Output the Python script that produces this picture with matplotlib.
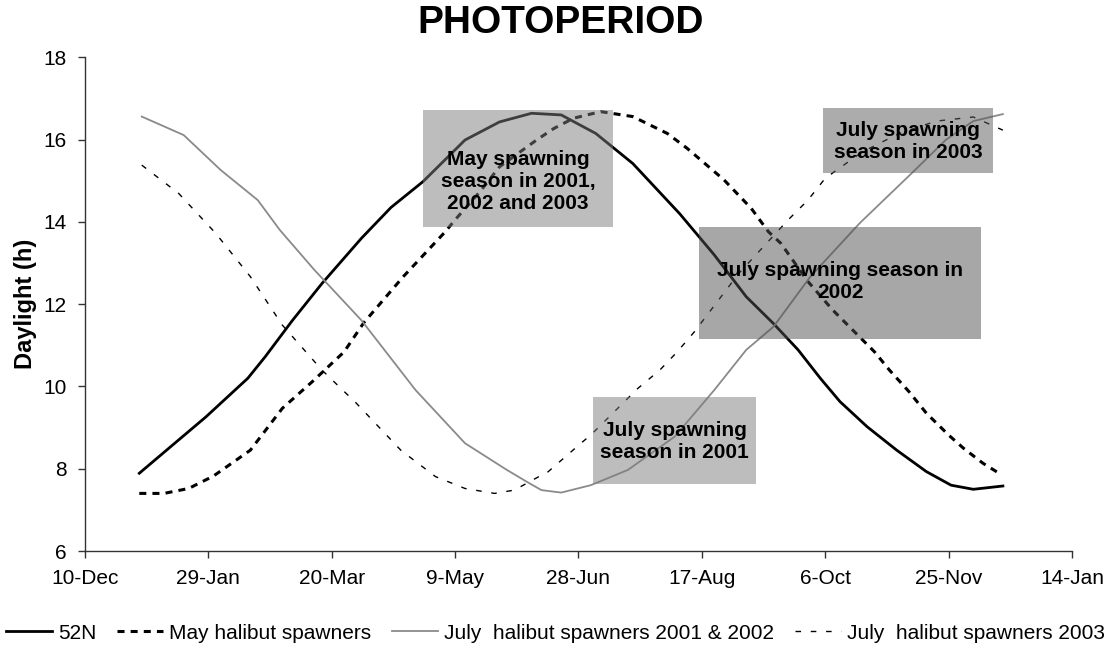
import matplotlib.pyplot as plt
from matplotlib.patches import Rectangle

plt.rcParams['font.family'] = ['Liberation Sans', 'DejaVu Sans']

# x axis = days after 10-Dec
tick_days = [0, 50, 100, 150, 200, 250, 300, 350, 400]
tick_labels = ['10-Dec', '29-Jan', '20-Mar', '9-May', '28-Jun',
               '17-Aug', '6-Oct', '25-Nov', '14-Jan']

# 52N daylight
n52_days = [22, 35, 49, 66, 73, 84, 96, 112, 124, 137, 154, 168, 181, 193,
            207, 222, 241, 255, 268, 279, 289, 298, 306, 317, 329, 341, 351,
            360, 372]
n52_hours = [7.89, 8.55, 9.26, 10.2, 10.72, 11.6, 12.5, 13.6, 14.35, 14.98,
             15.99, 16.43, 16.64, 16.6, 16.15, 15.42, 14.2, 13.2, 12.18,
             11.53, 10.89, 10.2, 9.63, 9.02, 8.45, 7.93, 7.6, 7.5, 7.58]

# May halibut spawners
may_days = [22, 32, 42, 52, 67, 80, 92, 105, 113, 129, 146, 150, 160, 168,
            183, 190, 198, 209, 222, 236, 244, 259, 270, 277, 282, 293, 303,
            314, 320, 326, 334, 341, 350, 356, 364, 371]
may_hours = [7.4, 7.4, 7.52, 7.82, 8.45, 9.47, 10.11, 10.84, 11.55, 12.67,
             13.76, 14.05, 14.73, 15.34, 15.99, 16.27, 16.52, 16.68, 16.56,
             16.15, 15.79, 15.02, 14.33, 13.76, 13.48, 12.55, 11.86, 11.2,
             10.84, 10.4, 9.87, 9.35, 8.82, 8.5, 8.13, 7.87]

# July halibut spawners 2001 & 2002
jul12_days = [23, 40, 55, 70, 79, 93, 112, 134, 154, 171, 180, 185, 193,
              205, 220, 239, 255, 268, 279, 294, 314, 335, 349, 360, 372]
jul12_hours = [16.56, 16.11, 15.26, 14.53, 13.8, 12.83, 11.61, 9.91, 8.62,
               7.97, 7.65, 7.48, 7.42, 7.6, 7.97, 8.78, 9.91, 10.89, 11.45,
               12.67, 13.97, 15.18, 16.0, 16.45, 16.62]

# July halibut spawners 2003
jul3_days = [23, 38, 53, 67, 80, 96, 110, 128, 142, 154, 166, 174, 184, 187,
             201, 205, 224, 233, 240, 247, 265, 285, 293, 300, 315, 330, 345,
             360, 372]
jul3_hours = [15.38, 14.69, 13.72, 12.67, 11.49, 10.4, 9.59, 8.45, 7.81, 7.52,
              7.4, 7.48, 7.81, 7.89, 8.62, 8.82, 9.95, 10.4, 10.84, 11.33,
              12.75, 14.05, 14.53, 15.06, 15.7, 16.15, 16.45, 16.55, 16.23]

fig = plt.figure(figsize=(11.2, 6.5), dpi=100)
ax = fig.add_axes([0.0759, 0.1523, 0.8812, 0.7595])

ax.plot(n52_days, n52_hours, color='black', lw=2.0, label='52N', zorder=3)
ax.plot(may_days, may_hours, color='black', lw=2.2, ls=(0, (2.3, 2.0)),
        label='May halibut spawners', zorder=3)
ax.plot(jul12_days, jul12_hours, color='#8a8a8a', lw=1.3,
        label='July  halibut spawners 2001 & 2002', zorder=3)
ax.plot(jul3_days, jul3_hours, color='black', lw=1.0, ls=(0, (4, 7)),
        label='July  halibut spawners 2003', zorder=3)

# shaded text boxes (x0, x1, y0, y1, text y, colour, text)
boxes = [
    (137, 214, 13.87, 16.72, 14.97, '#7c7c7c',
     'May spawning\nseason in 2001,\n2002 and 2003'),
    (299, 368, 15.19, 16.77, 15.96, '#5a5a5a',
     'July spawning\nseason in 2003'),
    (249, 363, 11.15, 13.87, 12.54, '#505050',
     'July spawning season in\n2002'),
    (206, 272, 7.64, 9.75, 8.67, '#7c7c7c',
     'July spawning\nseason in 2001'),
]
for x0, x1, y0, y1, ty, col, txt in boxes:
    ax.add_patch(Rectangle((x0, y0), x1 - x0, y1 - y0, facecolor=col,
                           edgecolor='none', alpha=0.5, zorder=4))
    ax.text((x0 + x1) / 2, ty, txt, ha='center', va='center', fontsize=15,
            fontweight='bold', linespacing=1.2, zorder=5)

ax.set_xlim(0, 400)
ax.set_ylim(6, 18)
ax.set_xticks(tick_days)
ax.set_xticklabels(tick_labels)
ax.set_yticks(range(6, 19, 2))
ax.tick_params(axis='both', labelsize=15, length=5, width=1, direction='out',
               color='#333333')
ax.tick_params(axis='x', pad=8)
ax.tick_params(axis='y', pad=8)
for side in ['top', 'right']:
    ax.spines[side].set_visible(False)
for side in ['left', 'bottom']:
    ax.spines[side].set_color('#333333')
    ax.spines[side].set_linewidth(1.0)

ax.set_ylabel('Daylight (h)', fontsize=17, fontweight='bold', labelpad=5)
fig.text(0.501, 0.964, 'PHOTOPERIOD', ha='center', va='center', fontsize=28,
         fontweight='bold')

fig.legend(loc='center', bbox_to_anchor=(0.496, 0.026), ncol=4,
           frameon=False, fontsize=15, handlelength=2.2, handletextpad=0.3,
           columnspacing=1.0, borderaxespad=0)

fig.savefig('out.png', dpi=100)
